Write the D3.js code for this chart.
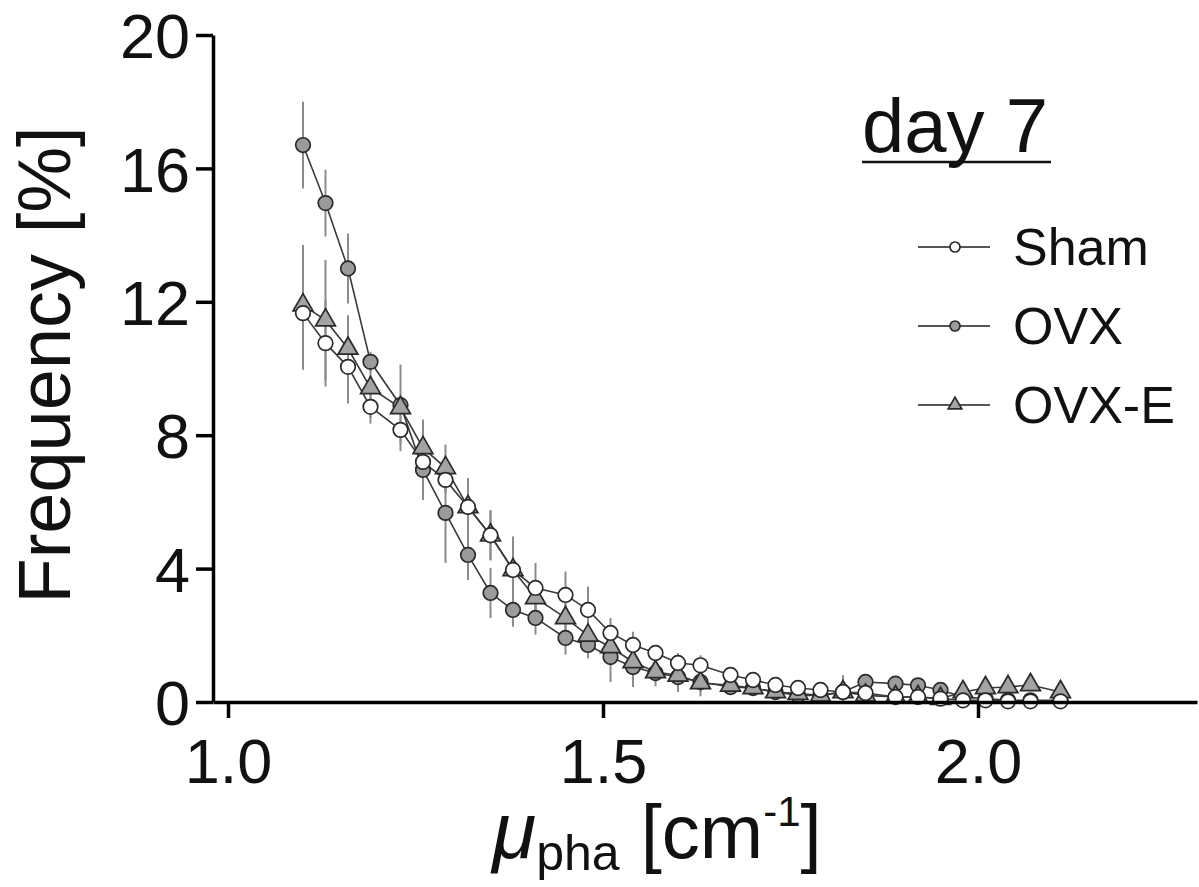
<!DOCTYPE html>
<html>
<head>
<meta charset="utf-8">
<script src="https://cdn.jsdelivr.net/npm/d3@7"></script>
<style>
  body { margin: 0; background: #fff; }
  text { font-family: "Liberation Sans", Arial, sans-serif; fill: #111; }
</style>
</head>
<body>
<svg id="chart" width="1199" height="887"></svg>
<script>
// bin centres of mu_pha [cm-1]
const muPha = [1.10, 1.13, 1.16, 1.19, 1.23, 1.26, 1.29, 1.32, 1.35, 1.38, 1.41,
               1.45, 1.48, 1.51, 1.54, 1.57, 1.60, 1.63, 1.67, 1.70, 1.73, 1.76,
               1.79, 1.82, 1.85, 1.89, 1.92, 1.95, 1.98, 2.01, 2.04, 2.07, 2.11];

// frequency [%] per group
const shamFreq = [11.66, 10.76, 10.05, 8.85, 8.16, 7.2, 6.66, 5.85, 5.0, 3.96, 3.42,
                  3.21, 2.76, 2.07, 1.71, 1.47, 1.17, 1.1, 0.81, 0.66, 0.51, 0.42,
                  0.36, 0.3, 0.27, 0.15, 0.15, 0.1, 0.05, 0.05, 0.02, 0.02, 0.02];
const ovxFreq  = [16.7, 14.96, 13.0, 10.2, 8.9, 6.96, 5.67, 4.41, 3.27, 2.76, 2.52,
                  1.92, 1.71, 1.35, 1.05, 0.87, 0.75, 0.6, 0.45, 0.42, 0.3, 0.2,
                  0.2, 0.3, 0.6, 0.55, 0.5, 0.36, 0.15, 0.1, 0.05, 0.05, 0.05];
const ovxeFreq = [11.9, 11.45, 10.6, 9.42, 8.82, 7.62, 7.02, 5.85, 5.0, 3.96, 3.12,
                  2.52, 2.0, 1.65, 1.2, 0.9, 0.8, 0.57, 0.5, 0.42, 0.3, 0.25,
                  0.2, 0.3, 0.2, 0.15, 0.15, 0.1, 0.3, 0.42, 0.45, 0.51, 0.3];

// error bars (SEM)
const shamErr = [1.7, 1.3, 1.1, 0.5, 0.4, 0.5, 0.4, 0.6, 0.75, 0.5, 0.75, 0.7, 0.7,
                 0.45, 0.4, 0.2, 0.3, 0.3, 0.2, 0.15, 0.1, 0.1, 0.1, 0.1, 0.1, 0.05,
                 0.05, 0.05, 0.05, 0.05, 0.05, 0.05, 0.05];
const ovxErr  = [1.3, 1.0, 1.05, 0.3, 0.3, 0.9, 1.5, 0.75, 0.75, 0.5, 0.5, 0.5, 0.4,
                 0.75, 0.6, 0.4, 0.45, 0.3, 0.2, 0.2, 0.15, 0.1, 0.1, 0.1, 0.15, 0.1,
                 0.1, 0.1, 0.1, 0.05, 0.05, 0.05, 0.05];
const ovxeErr = [1.8, 1.8, 1.0, 0.9, 1.3, 0.85, 0.7, 0.87, 0.75, 1.0, 0.5, 0.5, 0.4,
                 0.4, 0.4, 0.3, 0.3, 0.4, 0.2, 0.15, 0.15, 0.1, 0.1, 0.5, 0.1, 0.1,
                 0.1, 0.1, 0.2, 0.2, 0.15, 0.15, 0.15];

const groupNames = ["Sham", "OVX", "OVX-E"];
const xTicks = [1.0, 1.5, 2.0];
const yTicks = [0, 4, 8, 12, 16, 20];

const groups = [
  { name: groupNames[1], freq: ovxFreq,  err: ovxErr,  shape: "circle",   fill: "#9b9b9b" },
  { name: groupNames[2], freq: ovxeFreq, err: ovxeErr, shape: "triangle", fill: "#a3a3a3" },
  { name: groupNames[0], freq: shamFreq, err: shamErr, shape: "circle",   fill: "#ffffff" }
];

const svg = d3.select("#chart");

const x = d3.scaleLinear().domain([0.98, 2.292]).range([213, 1197]);
const y = d3.scaleLinear().domain([0, 20]).range([702, 35]);

// error bars first
groups.forEach(g => {
  svg.append("g")
    .selectAll("line")
    .data(muPha.map((m, i) => ({ m: m, v: g.freq[i], e: g.err[i] })))
    .enter().append("line")
    .attr("x1", d => x(d.m)).attr("x2", d => x(d.m))
    .attr("y1", d => y(d.v + d.e)).attr("y2", d => y(Math.max(0, d.v - d.e)))
    .attr("stroke", "#8c8c8c")
    .attr("stroke-width", 2);
});

const line = d3.line().x(d => x(d[0])).y(d => y(d[1]));

groups.forEach(g => {
  svg.append("path")
    .datum(muPha.map((m, i) => [m, g.freq[i]]))
    .attr("d", line)
    .attr("fill", "none")
    .attr("stroke", "#3a3a3a")
    .attr("stroke-width", 1.6);
});

function drawMarker(sel, g, r) {
  if (g.shape === "circle") {
    sel.append("circle").attr("r", r);
  } else {
    sel.append("path").attr("d", d3.symbol().type(d3.symbolTriangle).size(r * r * 3.2)());
  }
  sel.selectAll("circle, path")
    .attr("fill", g.fill)
    .attr("stroke", "#2a2a2a")
    .attr("stroke-width", 1.7);
}

groups.forEach(g => {
  const pts = svg.append("g")
    .selectAll("g")
    .data(muPha.map((m, i) => [m, g.freq[i]]))
    .enter().append("g")
    .attr("transform", d => `translate(${x(d[0])},${y(d[1])})`);
  pts.each(function () { drawMarker(d3.select(this), g, 7.3); });
});

// axes
const xAxis = svg.append("g")
  .attr("transform", "translate(0,702)")
  .call(d3.axisBottom(x).tickValues(xTicks).tickFormat(d3.format(".1f"))
        .tickSize(16).tickSizeOuter(0).tickPadding(20));
const yAxis = svg.append("g")
  .attr("transform", "translate(213,0)")
  .call(d3.axisLeft(y).tickValues(yTicks).tickSize(17).tickSizeOuter(0).tickPadding(6));

[xAxis, yAxis].forEach(a => {
  a.select(".domain").attr("stroke", "#000").attr("stroke-width", 3.5);
  a.selectAll(".tick line").attr("stroke", "#000").attr("stroke-width", 3.5);
  a.selectAll(".tick text")
    .attr("fill", "#111")
    .style("font-size", "63px")
    .style("font-family", "'Liberation Sans', Arial, sans-serif");
});
yAxis.selectAll(".tick text").attr("dy", "0.36em");

// axis titles
svg.append("text")
  .attr("transform", "translate(70,365) rotate(-90)")
  .attr("text-anchor", "middle")
  .style("font-size", "74px")
  .text("Frequency [%]");

const xt = svg.append("text")
  .attr("x", 657).attr("y", 858)
  .attr("text-anchor", "middle")
  .style("font-size", "76px");
xt.append("tspan").style("font-style", "italic").style("font-size", "80px").text("\u03bc");
xt.append("tspan").attr("dy", 12).style("font-size", "50px").text("pha");
xt.append("tspan").attr("dy", -12).text(" [cm");
xt.append("tspan").attr("dy", -32).style("font-size", "42px").text("-1");
xt.append("tspan").attr("dy", 32).text("]");

// title + legend
svg.append("text")
  .attr("x", 862).attr("y", 152)
  .style("font-size", "76px")
  .text("day 7");
svg.append("line")
  .attr("x1", 862).attr("x2", 1051)
  .attr("y1", 162).attr("y2", 162)
  .attr("stroke", "#111").attr("stroke-width", 2.5);

const legendRows = [groups[2], groups[0], groups[1]];
const legend = svg.append("g")
  .selectAll("g")
  .data(legendRows)
  .enter().append("g")
  .attr("transform", (d, i) => `translate(955,${247 + i * 79})`);

legend.append("line")
  .attr("x1", -37).attr("x2", 35)
  .attr("stroke", "#555").attr("stroke-width", 2);
legend.each(function (g) { drawMarker(d3.select(this), g, 5); });
legend.append("text")
  .attr("x", 58).attr("y", 18)
  .style("font-size", "52px")
  .text(d => d.name);
</script>
</body>
</html>
